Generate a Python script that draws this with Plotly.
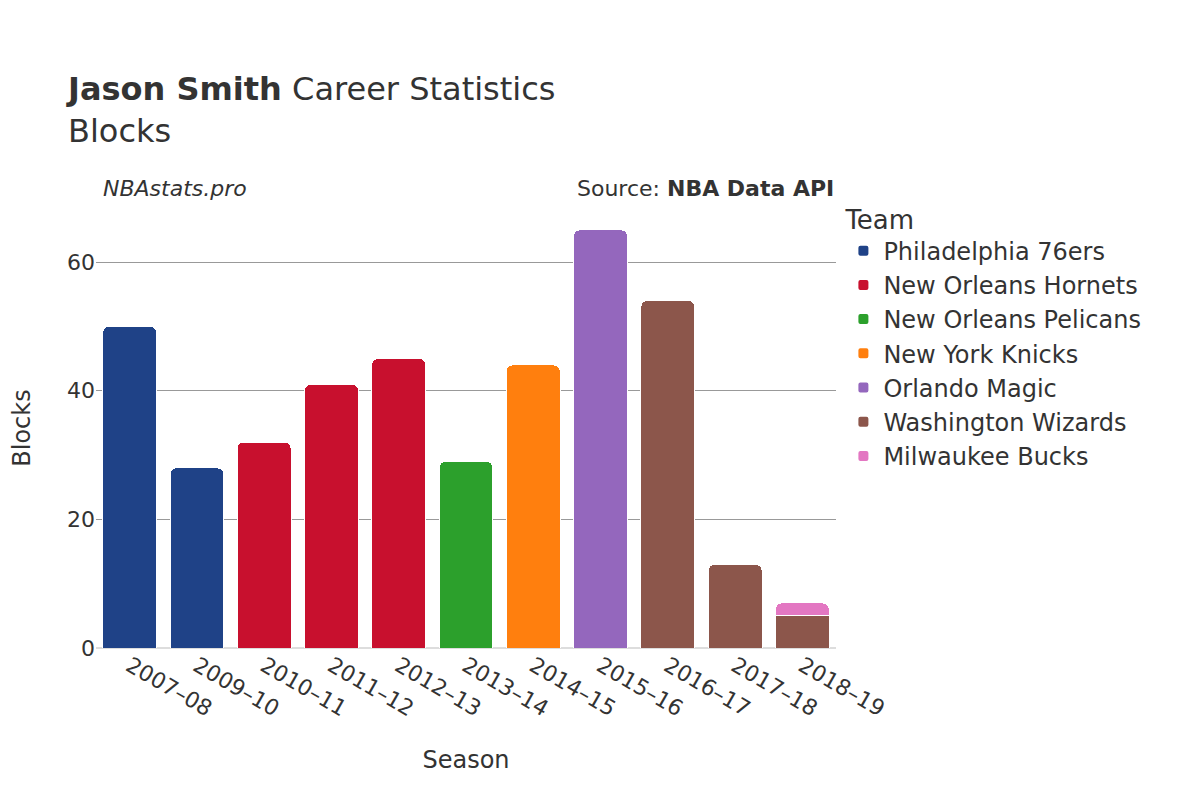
import plotly.graph_objects as go

seasons = ["2007–08","2009–10","2010–11","2011–12","2012–13","2013–14","2014–15","2015–16","2016–17","2017–18","2018–19"]
teams = ["Philadelphia 76ers","New Orleans Hornets","New Orleans Pelicans","New York Knicks","Orlando Magic","Washington Wizards","Milwaukee Bucks"]
colors = ["#1f4287","#c8102e","#2ca02c","#ff7f0e","#9467bd","#8c564b","#e377c2"]
team_seasons = [
    ["2007–08","2009–10"],
    ["2010–11","2011–12","2012–13"],
    ["2013–14"],
    ["2014–15"],
    ["2015–16"],
    ["2016–17","2017–18","2018–19"],
    ["2018–19"],
]
team_blocks = [
    [50, 28],
    [32, 41, 45],
    [29],
    [44],
    [65],
    [54, 13, 5],
    [2],
]

fig = go.Figure()
for t, c, s, v in zip(teams, colors, team_seasons, team_blocks):
    fig.add_trace(go.Bar(x=s, y=v, name=t, marker=dict(color=c, line=dict(color="white", width=1))))

fig.update_layout(
    barmode="stack", barcornerradius=6, bargap=0.2,
    width=1200, height=800,
    font=dict(family="DejaVu Sans", size=20, color="#333"),
    plot_bgcolor="white", paper_bgcolor="white",
    margin=dict(l=84, r=372, t=200, b=160),
    title=dict(text="<b>Jason Smith</b> Career Statistics<br>Blocks", x=0.05, xanchor="left", y=0.885, yanchor="top", font=dict(size=32)),
    xaxis=dict(title=dict(text="Season", font=dict(size=24), standoff=30), tickangle=30, categoryorder="array", categoryarray=seasons, tickfont=dict(size=22)),
    yaxis=dict(title=dict(text="Blocks", font=dict(size=24), standoff=30), range=[0, 68.4], gridcolor="#999", tickvals=[0,20,40,60], tickfont=dict(size=22), zeroline=True, zerolinecolor="#ddd", zerolinewidth=2),
    legend=dict(title=dict(text="Team", font=dict(size=26)), traceorder="normal", x=1.01, y=1.03, yanchor="top", font=dict(size=24), itemsizing="constant"),
    annotations=[
        dict(text="<i>NBAstats.pro</i>", x=0.0, xref="paper", xanchor="left", xshift=5, y=1.0, yref="paper", yanchor="bottom", yshift=5, showarrow=False, font=dict(size=22)),
        dict(text="Source: <b>NBA Data API</b>", x=1.0, xref="paper", xanchor="right", y=1.0, yref="paper", yanchor="bottom", yshift=5, showarrow=False, font=dict(size=22)),
    ],
)
fig.write_html("out.html")
